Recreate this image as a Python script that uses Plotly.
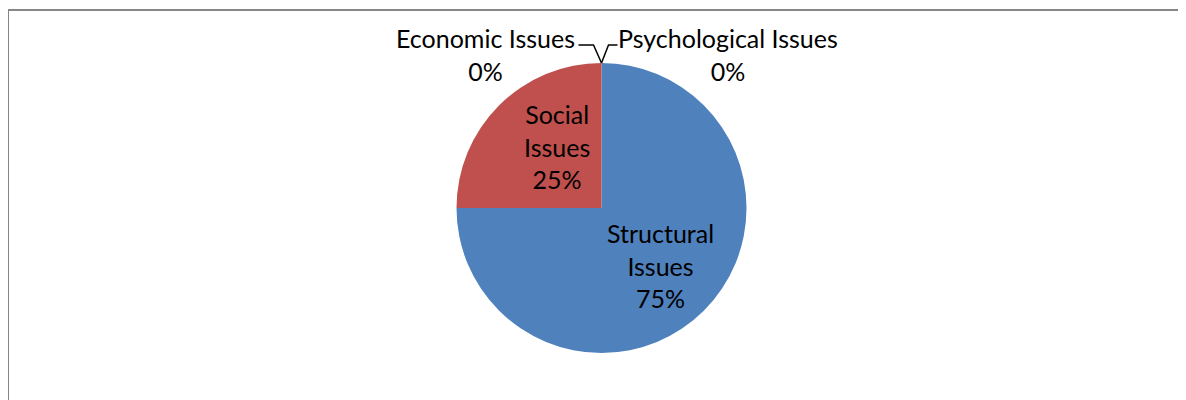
import plotly.graph_objects as go

# ---- data ----
categories = ["Structural Issues", "Social Issues", "Economic Issues", "Psychological Issues"]
values = [75, 25, 0, 0]
colors = ["#4F81BD", "#C0504D", "#4F81BD", "#C0504D"]

W, H = 1186, 400
FONT = "Lato"
FS = 25

# page offset (browser body margin) is 8px; coordinates below are figure pixels
cx, cy, R = 593.5, 200.0, 145.0

def px(x):
    return x / W

def py(y):
    return 1 - y / H

total = sum(values)
pct = [f"{round(v * 100 / total)}%" for v in values]

fig = go.Figure()
fig.add_trace(go.Pie(
    labels=categories,
    values=values,
    sort=False,
    direction="clockwise",
    rotation=0,
    marker=dict(colors=colors, line=dict(width=0)),
    textinfo="none",
    hoverinfo="label+percent",
    showlegend=False,
    domain=dict(x=[px(cx - R), px(cx + R)], y=[py(cy + R), py(cy - R)]),
))

# label layout (pixel offsets relative to pie center)
label_pos = {
    "Structural Issues": (59, 57),
    "Social Issues": (-45, -61),
    "Economic Issues": (-116, -153),
    "Psychological Issues": (126, -153),
}

annotations = []
for cat, p in zip(categories, pct):
    dx, dy = label_pos[cat]
    words = cat.split(" ")
    if cat in ("Structural Issues", "Social Issues"):
        txt = "<br>".join(words + [p])
    else:
        txt = cat + "<br>" + p
    annotations.append(dict(
        x=px(cx + dx), y=py(cy + dy), xref="paper", yref="paper",
        text=txt, showarrow=False, xanchor="center", yanchor="middle",
        font=dict(family=FONT, size=FS, color="#000000"),
        align="center",
    ))

# leader lines for zero slices
tx, ty = cx, cy - R
ly = ty - 18
econ_path = f"M {px(tx - 23)},{py(ly)} L {px(tx - 8)},{py(ly)} L {px(tx)},{py(ty)}"
psych_path = f"M {px(tx)},{py(ty)} L {px(tx + 7)},{py(ly)} L {px(tx + 16)},{py(ly)}"

shapes = [
    dict(type="path", path=econ_path, xref="paper", yref="paper",
         line=dict(color="#000000", width=1.5)),
    dict(type="path", path=psych_path, xref="paper", yref="paper",
         line=dict(color="#000000", width=1.5)),
    # chart area border
    dict(type="line", xref="paper", yref="paper", x0=0, x1=1.01, y0=py(2), y1=py(2),
         line=dict(color="#868686", width=2)),
    dict(type="line", xref="paper", yref="paper", x0=0, x1=0, y0=py(1), y1=-0.01,
         line=dict(color="#868686", width=2)),
]

fig.update_layout(
    width=W, height=H,
    margin=dict(l=0, r=0, t=0, b=0),
    paper_bgcolor="#FFFFFF",
    plot_bgcolor="#FFFFFF",
    annotations=annotations,
    shapes=shapes,
    font=dict(family=FONT, size=FS, color="#000000"),
)

fig.write_html("out.html")
